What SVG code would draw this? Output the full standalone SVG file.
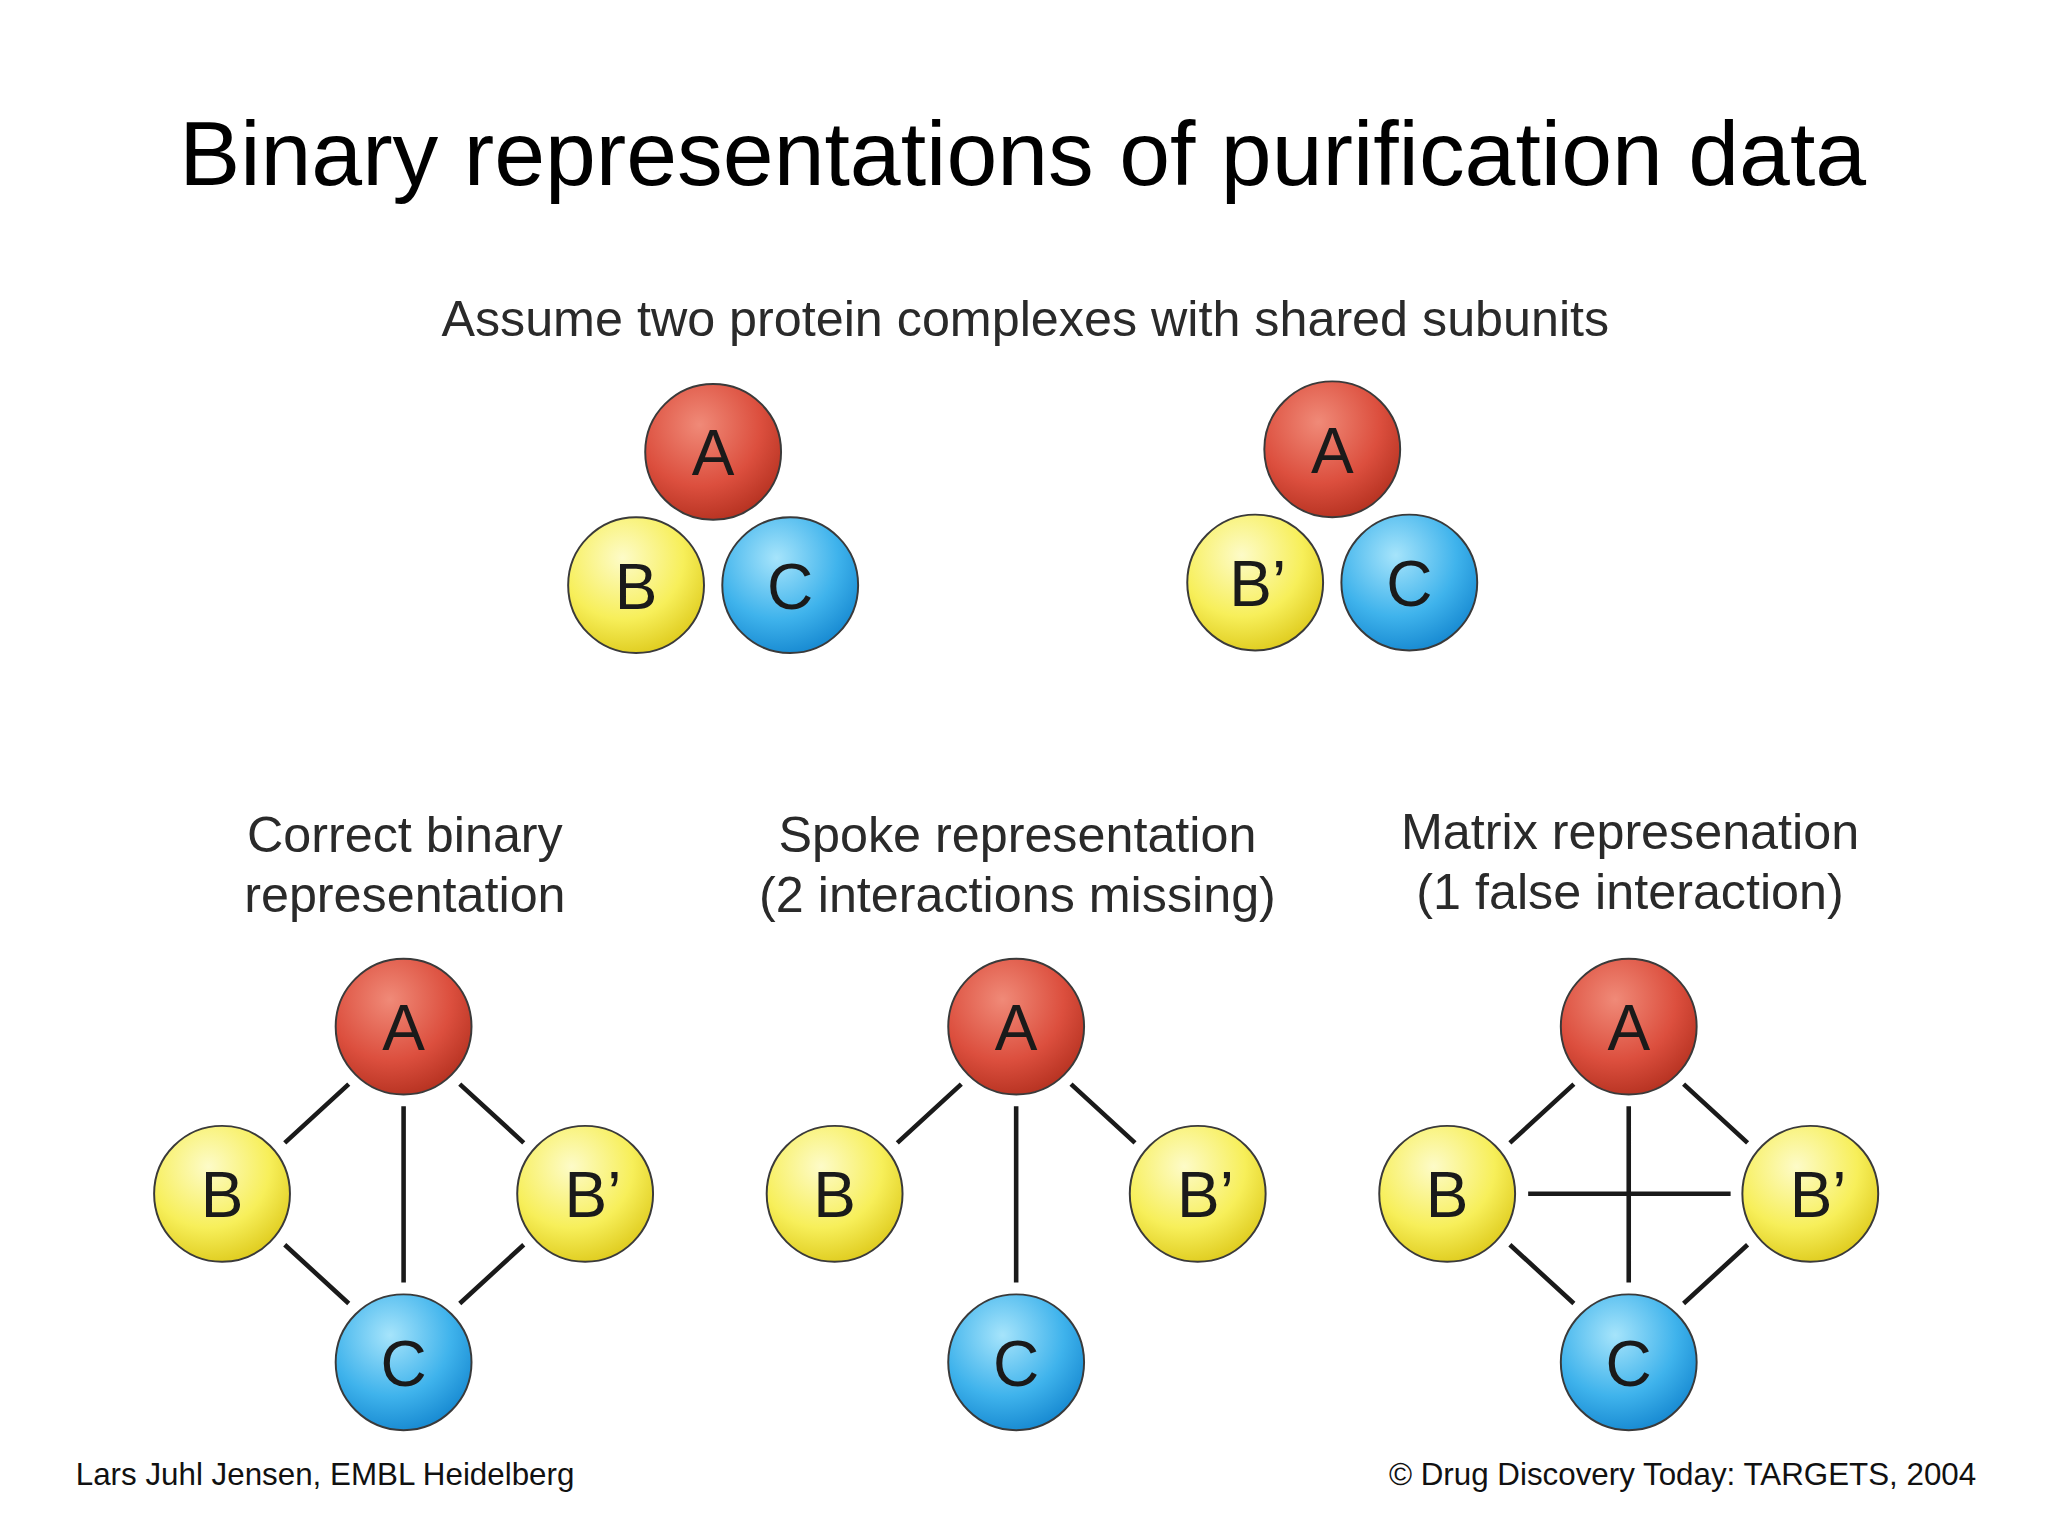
<svg xmlns="http://www.w3.org/2000/svg" width="2048" height="1536" viewBox="0 0 2048 1536">
<defs>
<radialGradient id="gr" cx="0.4" cy="0.3" r="0.75"><stop offset="0" stop-color="#f08a78"/><stop offset="0.6" stop-color="#dc4f3e"/><stop offset="1" stop-color="#b3301f"/></radialGradient>
<radialGradient id="gy" cx="0.4" cy="0.3" r="0.75"><stop offset="0" stop-color="#fdfbc8"/><stop offset="0.6" stop-color="#f7ef5a"/><stop offset="1" stop-color="#ddc91a"/></radialGradient>
<radialGradient id="gb" cx="0.4" cy="0.3" r="0.75"><stop offset="0" stop-color="#a6e4fb"/><stop offset="0.6" stop-color="#3fb3ec"/><stop offset="1" stop-color="#1486cf"/></radialGradient>
</defs>
<style>
.n{stroke:#3a3a3a;stroke-width:1.5}
.l{font-family:"Liberation Sans",Arial,sans-serif;font-size:49px;fill:#1a1a1a;text-anchor:middle}
.h{font-family:"Liberation Sans",Arial,sans-serif;font-size:38.5px;fill:#2a2a2a;text-anchor:middle}
.f{font-family:"Liberation Sans",Arial,sans-serif;font-size:24px;fill:#111}
.e{stroke:#1a1a1a;stroke-width:3.5;fill:none}
</style>
<rect width="2048" height="1536" fill="#fff"/>
<g transform="scale(1.30612)">
<text x="783" y="142" font-family="Liberation Sans,Arial,sans-serif" font-size="70" text-anchor="middle" fill="#000">Binary representations of purification data</text>
<text class="h" x="785" y="257">Assume two protein complexes with shared subunits</text>
<text class="h" x="310" y="652">Correct binary</text>
<text class="h" x="310" y="698">representation</text>
<text class="h" x="779" y="652">Spoke representation</text>
<text class="h" x="779" y="698">(2 interactions missing)</text>
<text class="h" x="1248" y="650">Matrix represenation</text>
<text class="h" x="1248" y="696">(1 false interaction)</text>
<text class="f" x="58" y="1137">Lars Juhl Jensen, EMBL Heidelberg</text>
<text class="f" x="1513" y="1137" text-anchor="end">© Drug Discovery Today: TARGETS, 2004</text>
<g id="connectors">
<path class="e" d="M267,830L218,875M309,847V982M352,830L401,875M218,953L267,998M401,953L352,998"/>
<path class="e" d="M736,830L687,875M778,847V982M820,830L869,875"/>
<path class="e" d="M1205,830L1156,875M1247,847V982M1289,830L1338,875M1156,953L1205,998M1338,953L1289,998M1170,914H1325"/>
</g>
<g id="t1A"><circle class="n" cx="546" cy="346" r="52" fill="url(#gr)"/><text class="l" x="546" y="364">A</text></g>
<g id="t1B"><circle class="n" cx="487" cy="448" r="52" fill="url(#gy)"/><text class="l" x="487" y="466">B</text></g>
<g id="t1C"><circle class="n" cx="605" cy="448" r="52" fill="url(#gb)"/><text class="l" x="605" y="466">C</text></g>
<g id="t2A"><circle class="n" cx="1020" cy="344" r="52" fill="url(#gr)"/><text class="l" x="1020" y="362">A</text></g>
<g id="t2B"><circle class="n" cx="961" cy="446" r="52" fill="url(#gy)"/><text class="l" x="963" y="464">B’</text></g>
<g id="t2C"><circle class="n" cx="1079" cy="446" r="52" fill="url(#gb)"/><text class="l" x="1079" y="464">C</text></g>
<g id="p1A"><circle class="n" cx="309" cy="786" r="52" fill="url(#gr)"/><text class="l" x="309" y="804">A</text></g>
<g id="p1B"><circle class="n" cx="170" cy="914" r="52" fill="url(#gy)"/><text class="l" x="170" y="932">B</text></g>
<g id="p1Bp"><circle class="n" cx="448" cy="914" r="52" fill="url(#gy)"/><text class="l" x="454" y="932">B’</text></g>
<g id="p1C"><circle class="n" cx="309" cy="1043" r="52" fill="url(#gb)"/><text class="l" x="309" y="1061">C</text></g>
<g id="p2A"><circle class="n" cx="778" cy="786" r="52" fill="url(#gr)"/><text class="l" x="778" y="804">A</text></g>
<g id="p2B"><circle class="n" cx="639" cy="914" r="52" fill="url(#gy)"/><text class="l" x="639" y="932">B</text></g>
<g id="p2Bp"><circle class="n" cx="917" cy="914" r="52" fill="url(#gy)"/><text class="l" x="923" y="932">B’</text></g>
<g id="p2C"><circle class="n" cx="778" cy="1043" r="52" fill="url(#gb)"/><text class="l" x="778" y="1061">C</text></g>
<g id="p3A"><circle class="n" cx="1247" cy="786" r="52" fill="url(#gr)"/><text class="l" x="1247" y="804">A</text></g>
<g id="p3B"><circle class="n" cx="1108" cy="914" r="52" fill="url(#gy)"/><text class="l" x="1108" y="932">B</text></g>
<g id="p3Bp"><circle class="n" cx="1386" cy="914" r="52" fill="url(#gy)"/><text class="l" x="1392" y="932">B’</text></g>
<g id="p3C"><circle class="n" cx="1247" cy="1043" r="52" fill="url(#gb)"/><text class="l" x="1247" y="1061">C</text></g>
</g>
</svg>
